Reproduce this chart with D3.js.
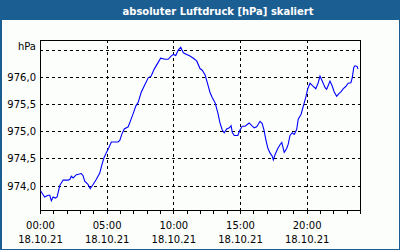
<!DOCTYPE html>
<html><head><meta charset="utf-8">
<script src="https://cdn.jsdelivr.net/npm/d3@7"></script>
<style>
html,body{margin:0;padding:0;background:#fff;}
svg{display:block;}
text{font-family:"DejaVu Sans",Verdana,sans-serif;}
</style></head>
<body><svg id="c" width="400" height="250"></svg>
<script>
const title = "absoluter Luftdruck [hPa] skaliert";
const dateLabel = "18.10.21";
const xTickLabels = ["00:00","05:00","10:00","15:00","20:00"];
const yTickValues = [974.0, 974.5, 975.0, 975.5, 976.0, 976.5];
const yTickLabels = ["974,0","974,5","975,0","975,5","976,0","hPa"];
const times = ["00:03","00:21","00:36","00:44","00:51","00:59","01:09","01:17","01:29","01:44",
"02:06","02:14","02:21","02:29","02:44","03:06","03:14","03:21","03:36","03:46",
"03:59","04:13","04:29","04:39","04:48","04:58","05:09","05:21","05:51","05:59",
"06:08","06:19","06:37","06:50","07:00","07:11","07:22","07:35","07:49","08:07",
"08:20","08:34","08:50","09:03","09:23","09:37","09:50","10:00","10:11","10:22",
"10:33","10:45","11:00","11:15","11:30","11:45","12:00","12:10","12:23","12:35",
"12:45","12:55","13:08","13:20","13:30","13:40","13:49","14:00","14:12","14:20",
"14:25","14:34","14:50","15:00","15:10","15:23","15:41","15:53","16:04","16:15",
"16:30","16:40","16:48","16:56","17:05","17:15","17:25","17:30","17:38","17:50",
"18:00","18:08","18:19","18:30","18:37","18:45","18:55","19:04","19:15","19:22",
"19:35","19:45","19:56","20:05","20:15","20:25","20:41","20:52","21:00","21:10",
"21:23","21:30","21:37","21:45","21:55","22:04","22:15","22:25","22:34","22:45",
"22:56","23:07","23:19","23:25","23:32","23:37","23:47","23:51"];
const pressure = [973.90,973.79,973.82,973.82,973.72,973.79,973.77,973.79,974.00,974.10,
974.10,974.11,974.17,974.14,974.20,974.22,974.18,974.08,974.02,973.94,
974.02,974.11,974.23,974.39,974.51,974.60,974.69,974.80,974.80,974.83,
974.94,975.04,975.08,975.22,975.33,975.46,975.53,975.71,975.83,975.98,
976.01,976.14,976.25,976.34,976.32,976.32,976.38,976.41,976.39,976.49,
976.54,976.44,976.41,976.38,976.34,976.29,976.15,976.12,976.03,975.86,
975.71,975.62,975.52,975.34,975.15,975.02,974.97,975.04,975.06,975.10,
974.98,974.92,974.92,975.02,975.09,975.09,975.15,975.10,975.06,975.08,
975.18,975.14,975.02,974.85,974.69,974.60,974.54,974.47,974.57,974.68,
974.75,974.79,974.61,974.68,974.76,974.92,974.97,974.94,975.03,975.22,
975.31,975.46,975.62,975.78,975.88,975.84,975.78,975.89,976.01,975.92,
975.80,975.77,975.84,975.92,975.83,975.72,975.64,975.69,975.72,975.78,
975.82,975.88,975.89,975.98,976.17,976.20,976.19,976.14];

const parse = d3.timeParse("%Y-%m-%d %H:%M");
const day = "2021-10-18";
const data = times.map((t,i)=>({t:parse(day+" "+t), v:pressure[i]}));

const svg = d3.select("#c");
const W=400,H=250;
const L=40,R=360,T=40,B=210;
const blue="#1b5e91";

svg.append("rect").attr("width",W).attr("height",H).attr("fill","#fcfefc");
// title bar
svg.append("rect").attr("x",0).attr("y",0).attr("width",W).attr("height",20).attr("fill",blue);
svg.append("text").attr("x",218).attr("y",14.5).attr("text-anchor","middle")
  .attr("fill","#fff").attr("font-weight","bold").attr("font-size","11px")
  .attr("textLength",191).attr("lengthAdjust","spacingAndGlyphs").text(title);
// frame
svg.append("rect").attr("x",0).attr("y",20).attr("width",2).attr("height",230).attr("fill",blue);
svg.append("rect").attr("x",399).attr("y",20).attr("width",1).attr("height",230).attr("fill",blue);
svg.append("rect").attr("x",0).attr("y",249).attr("width",400).attr("height",1).attr("fill",blue);

const x = d3.scaleTime().domain([parse(day+" 00:00"), parse("2021-10-19 00:00")]).range([L,R]);
const y = d3.scaleLinear().domain([973.55, 976.675]).range([B,T]);

const g = svg.append("g").attr("shape-rendering","crispEdges");
// horizontal grid
g.selectAll("line.hg").data(yTickValues).join("line")
  .attr("x1",L).attr("x2",R).attr("y1",d=>Math.round(y(d))+0.5).attr("y2",d=>Math.round(y(d))+0.5)
  .attr("stroke","#000").attr("stroke-dasharray","3,3");
// vertical grid
const vg = xTickLabels.slice(1).map(s=>parse(day+" "+s));
g.selectAll("line.vg").data(vg).join("line")
  .attr("x1",d=>Math.round(x(d))+0.5).attr("x2",d=>Math.round(x(d))+0.5).attr("y1",T).attr("y2",B)
  .attr("stroke","#000").attr("stroke-dasharray","3,3");

// x axis
const xAxis = d3.axisBottom(x).ticks(d3.timeHour.every(1)).tickSize(3).tickFormat("");
const ax = svg.append("g").attr("transform",`translate(0,${B+0.5})`).call(xAxis);
ax.select(".domain").attr("stroke","#000").attr("d",`M${L},0H${R}`);
ax.selectAll("line").attr("stroke","#000");
ax.attr("shape-rendering","crispEdges");

// borders
g.append("line").attr("x1",L+0.5).attr("x2",L+0.5).attr("y1",T).attr("y2",B).attr("stroke","#000");
g.append("line").attr("x1",R+0.5).attr("x2",R+0.5).attr("y1",T).attr("y2",B+1).attr("stroke","#000");
g.append("line").attr("x1",L).attr("x2",R+1).attr("y1",T+0.5).attr("y2",T+0.5).attr("stroke","#000");

// x labels
xTickLabels.forEach(s=>{
  const xx = x(parse(day+" "+s));
  svg.append("text").attr("x",xx+0.5).attr("y",229).attr("text-anchor","middle")
    .attr("font-size","10px").attr("fill","#000").text(s);
  svg.append("text").attr("x",xx+0.5).attr("y",243).attr("text-anchor","middle")
    .attr("font-size","10px").attr("fill","#000").text(dateLabel);
});
// y labels
yTickValues.forEach((v,i)=>{
  const off = yTickLabels[i]==="hPa" ? -4 : 0;
  svg.append("text").attr("x",36).attr("y",y(v)+4+off).attr("text-anchor","end")
    .attr("font-size","10px").attr("fill","#000").text(yTickLabels[i]);
});

// line
const line = d3.line().x(d=>x(d.t)).y(d=>y(d.v));
svg.append("path").datum(data).attr("d",line).attr("fill","none")
  .attr("stroke","#0000ff").attr("stroke-width",1.1);
</script></body></html>
